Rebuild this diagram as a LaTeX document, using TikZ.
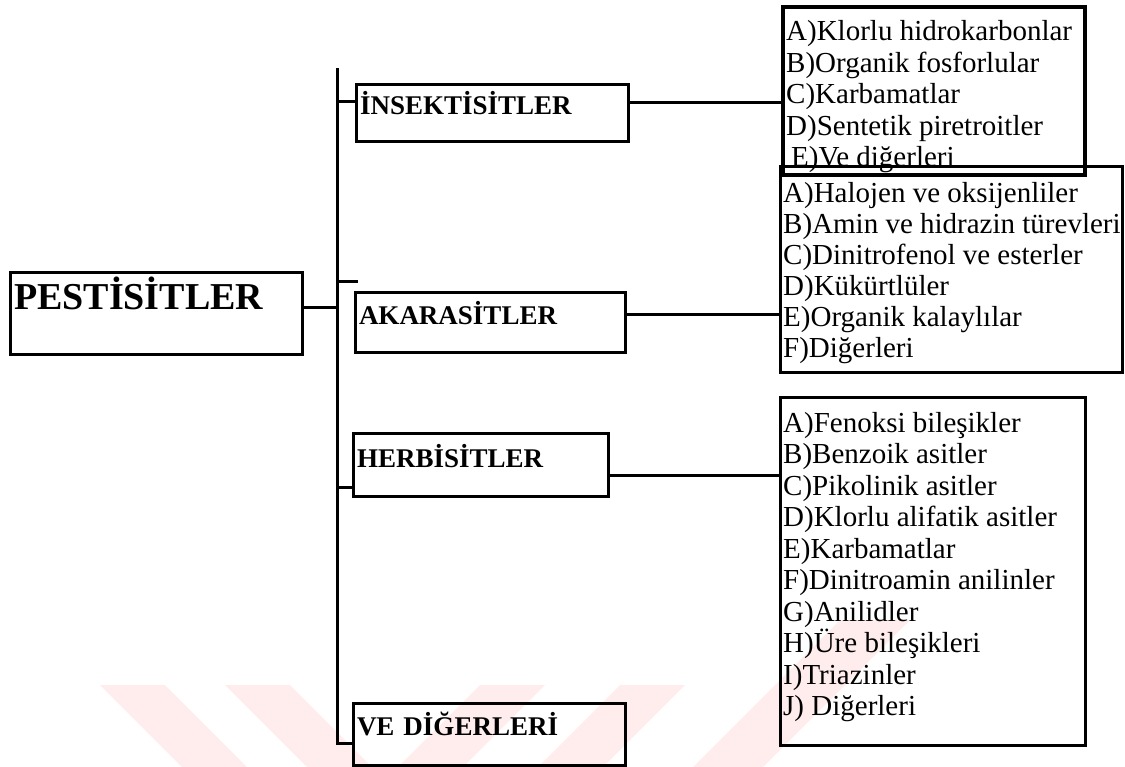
\documentclass[tikz,border=0pt]{standalone}
\usepackage{fontspec}
\setmainfont{Liberation Serif}

\tikzstyle{headbox}=[draw,line width=3pt,anchor=north west,outer sep=0pt,inner xsep=4pt,inner ysep=0pt,align=left,font=\bfseries\fontsize{27}{27}\selectfont]
\tikzstyle{listbox}=[draw,line width=3pt,anchor=north west,outer sep=0pt,inner sep=0pt]
\tikzstyle{item}=[anchor=base west,inner sep=0pt,font=\fontsize{29}{29}\selectfont]
\tikzstyle{edge}=[draw,line width=3pt]
\tikzstyle{stripe}=[fill=red!7,draw=none]

\begin{document}
\begin{tikzpicture}[x=1pt,y=-1pt]
    \useasboundingbox (0,0) rectangle (1125,767);
    % faint watermark stripes at the bottom
    \foreach \x in {100,225}
        \fill[stripe] (\x,685) -- ++(65,0) -- ++(82,82) -- ++(-65,0) -- cycle;
    \foreach \x in {480,620}
        \fill[stripe] (\x,685) -- ++(65,0) -- ++(-82,82) -- ++(-65,0) -- cycle;
    \fill[stripe] (840,620) -- ++(70,0) -- ++(-147,147) -- ++(-70,0) -- cycle;

    % main boxes
    \node[headbox,text width=284pt,text height=37pt,text depth=45pt,
          font=\bfseries\fontsize{38}{38}\selectfont] (pest) at (10,273) {PESTİSİTLER};
    \node[headbox,text width=264pt,text height=30pt,text depth=27pt] (ins) at (356,85) {İNSEKTİSİTLER};
    \node[headbox,text width=262pt,text height=32pt,text depth=28pt] (aka) at (355,293) {AKARASİTLER};
    \node[headbox,text width=247pt,text height=34pt,text depth=29pt] (herb) at (353,433) {HERBİSİTLER};
    \node[headbox,text width=264pt,text height=32pt,text depth=30pt] (ve) at (353,703) {VE DİĞERLERİ};

    % list boxes
    \node[listbox,line width=4pt,minimum width=302pt,minimum height=168pt] (inslist) at (783,7) {};
    \node[listbox,minimum width=342pt,minimum height=206pt] (akalist) at (780,167) {};
    \node[listbox,minimum width=305pt,minimum height=348pt] (herblist) at (780,397) {};

    % list entries
    \foreach \i/\txt in {0/{A)Klorlu hidrokarbonlar}, 1/{B)Organik fosforlular},
            2/{C)Karbamatlar}, 3/{D)Sentetik piretroitler}, 4/{\hspace*{5pt}E)Ve diğerleri}}
        \node[item] at (786,{41+31.5*\i}) {\txt};
    \foreach \i/\txt in {0/{A)Halojen ve oksijenliler}, 1/{B)Amin ve hidrazin türevleri},
            2/{C)Dinitrofenol ve esterler}, 3/{D)Kükürtlüler},
            4/{E)Organik kalaylılar}, 5/{F)Diğerleri}}
        \node[item] at (783,{203+31*\i}) {\txt};
    \foreach \i/\txt in {0/{A)Fenoksi bileşikler}, 1/{B)Benzoik asitler},
            2/{C)Pikolinik asitler}, 3/{D)Klorlu alifatik asitler}, 4/{E)Karbamatlar},
            5/{F)Dinitroamin anilinler}, 6/{G)Anilidler}, 7/{H)Üre bileşikleri},
            8/{I)Triazinler}, 9/{J) Diğerleri}}
        \node[item] at (783,{432+31.5*\i}) {\txt};

    % bus and branch points
    \coordinate (bustop) at (337,68);
    \coordinate (busbot) at (337,743);
    \coordinate (jpest) at (337,308);
    \coordinate (jins) at (337,102);
    \coordinate (jstub) at (337,282);
    \coordinate (stubend) at (358,282);
    \coordinate (jherb) at (337,487);
    \coordinate (rins) at (700,103);
    \coordinate (raka) at (700,315);
    \coordinate (rherb) at (700,475);

    \path[edge] (bustop) -- (busbot) -- (busbot -| ve.west);
    \path[edge] (jpest -| pest.east) -- (jpest);
    \path[edge] (jins) -- (jins -| ins.west);
    \path[edge] (jstub) -- (stubend);
    \path[edge] (jherb) -- (jherb -| herb.west);
    \path[edge] (rins -| ins.east) -- (rins -| inslist.west);
    \path[edge] (raka -| aka.east) -- (raka -| akalist.west);
    \path[edge] (rherb -| herb.east) -- (rherb -| herblist.west);
\end{tikzpicture}
\end{document}
